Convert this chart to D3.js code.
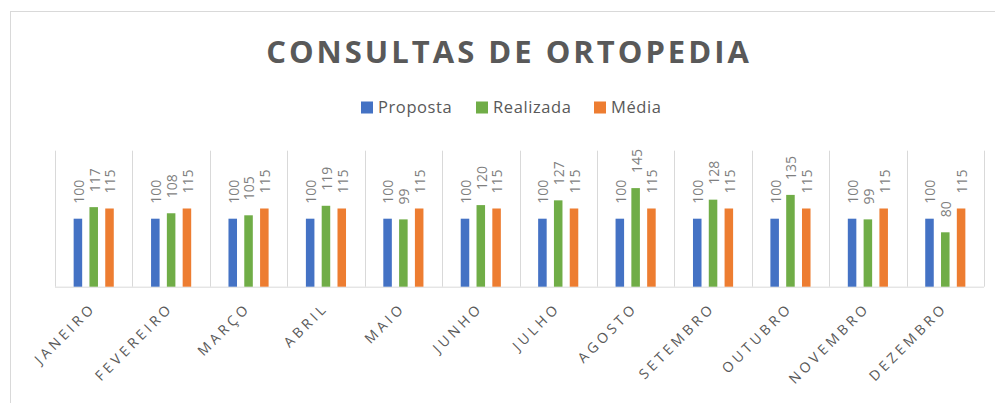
<!DOCTYPE html>
<html>
<head>
<meta charset="utf-8">
<script src="https://cdn.jsdelivr.net/npm/d3@7"></script>
<style>
  body { margin: 0; background: #fff; }
  svg { display: block; font-family: "Open Sans", sans-serif; }
</style>
</head>
<body>
<div id="chart"></div>
<script>
const months = ["JANEIRO", "FEVEREIRO", "MARÇO", "ABRIL", "MAIO", "JUNHO",
	"JULHO", "AGOSTO", "SETEMBRO", "OUTUBRO", "NOVEMBRO", "DEZEMBRO"];
const seriesNames = ["Proposta", "Realizada", "Média"];
const proposta = [100, 100, 100, 100, 100, 100, 100, 100, 100, 100, 100, 100];
const realizada = [117, 108, 105, 119, 99, 120, 127, 145, 128, 135, 99, 80];
const media = [115, 115, 115, 115, 115, 115, 115, 115, 115, 115, 115, 115];
const seriesValues = [proposta, realizada, media];

const W = 995, H = 403;
const margin = {top: 150.7, right: 11, bottom: 116.3, left: 55};
const innerW = W - margin.left - margin.right,
			innerH = H - margin.top - margin.bottom;

const color = d3.scaleOrdinal()
		.domain(seriesNames)
		.range(["#4472C4", "#70AD47", "#ED7D31"]);

const svg = d3.select("#chart").append("svg")
		.attr("width", W)
		.attr("height", H);

// Outer chart border (runs off the right/bottom of the picture)
svg.append("rect")
		.attr("x", 10.5).attr("y", 11.5)
		.attr("width", 1000).attr("height", 400)
		.attr("fill", "none")
		.attr("stroke", "#d9d9d9");

// Title
svg.append("text")
		.attr("x", 509)
		.attr("y", 62.5)
		.attr("text-anchor", "middle")
		.attr("fill", "#595959")
		.style("font-size", "31px")
		.style("font-weight", "bold")
		.style("letter-spacing", "3px")
		.text("CONSULTAS DE ORTOPEDIA");

// Legend
const legendX = [361, 476, 594];
const legend = svg.selectAll(".legend")
	.data(seriesNames)
	.enter()
	.append("g")
		.attr("class", "legend")
		.attr("transform", (d, i) => `translate(${legendX[i]}, 101.5)`);
legend.append("rect")
		.attr("width", 12).attr("height", 12)
		.attr("fill", d => color(d));
legend.append("text")
		.attr("x", 17)
		.attr("y", 11.5)
		.attr("fill", "#595959")
		.style("font-size", "16.5px")
		.style("letter-spacing", "0.6px")
		.text(d => d);

const g = svg.append("g")
		.attr("transform", `translate(${margin.left}, ${margin.top})`);

const x0 = d3.scaleBand()
		.domain(months)
		.range([0, innerW])
		.padding(0);

const x1 = d3.scaleBand()
		.domain(seriesNames)
		.range([0, x0.bandwidth()])
		.paddingInner(0.46)
		.paddingOuter(1.18);

const y = d3.scaleLinear()
		.domain([0, 200])
		.range([innerH, 0]);

// Category separators
g.selectAll(".sep")
	.data(d3.range(months.length + 1))
	.enter()
	.append("line")
		.attr("class", "sep")
		.attr("x1", i => Math.round(i * x0.step()) + 0.5)
		.attr("x2", i => Math.round(i * x0.step()) + 0.5)
		.attr("y1", 0)
		.attr("y2", innerH)
		.attr("stroke", "#d9d9d9");

// Baseline
g.append("line")
		.attr("x1", 0).attr("x2", innerW)
		.attr("y1", innerH + 0.5).attr("y2", innerH + 0.5)
		.attr("stroke", "#d9d9d9");

// Flatten to one record per bar
const bars = [];
months.forEach((m, i) => {
	seriesNames.forEach((s, j) => {
		bars.push({month: m, series: s, value: seriesValues[j][i]});
	});
});

g.selectAll(".bar")
	.data(bars)
	.enter()
	.append("rect")
		.attr("class", "bar")
		.attr("x", d => x0(d.month) + x1(d.series))
		.attr("y", d => y(d.value))
		.attr("width", x1.bandwidth())
		.attr("height", d => innerH - y(d.value))
		.attr("fill", d => color(d.series));

// Data labels, rotated
g.selectAll(".label")
	.data(bars)
	.enter()
	.append("text")
		.attr("class", "label")
		.attr("transform", d => {
			const cx = x0(d.month) + x1(d.series) + x1.bandwidth() / 2 + 1;
			return `translate(${cx}, ${y(d.value) - 15}) rotate(-90)`;
		})
		.attr("dy", "0.35em")
		.attr("fill", "#7f7f7f")
		.style("font-size", "14px")
		.text(d => d.value);

// Month labels at -45 degrees
g.selectAll(".month")
	.data(months)
	.enter()
	.append("text")
		.attr("class", "month")
		.attr("transform", d => {
			const cx = x0(d) + x0.bandwidth() / 2 + 3;
			return `translate(${cx}, ${innerH + 22}) rotate(-45)`;
		})
		.attr("text-anchor", "end")
		.attr("fill", "#595959")
		.style("font-size", "14px")
		.style("letter-spacing", "3.6px")
		.text(d => d);
</script>
</body>
</html>
